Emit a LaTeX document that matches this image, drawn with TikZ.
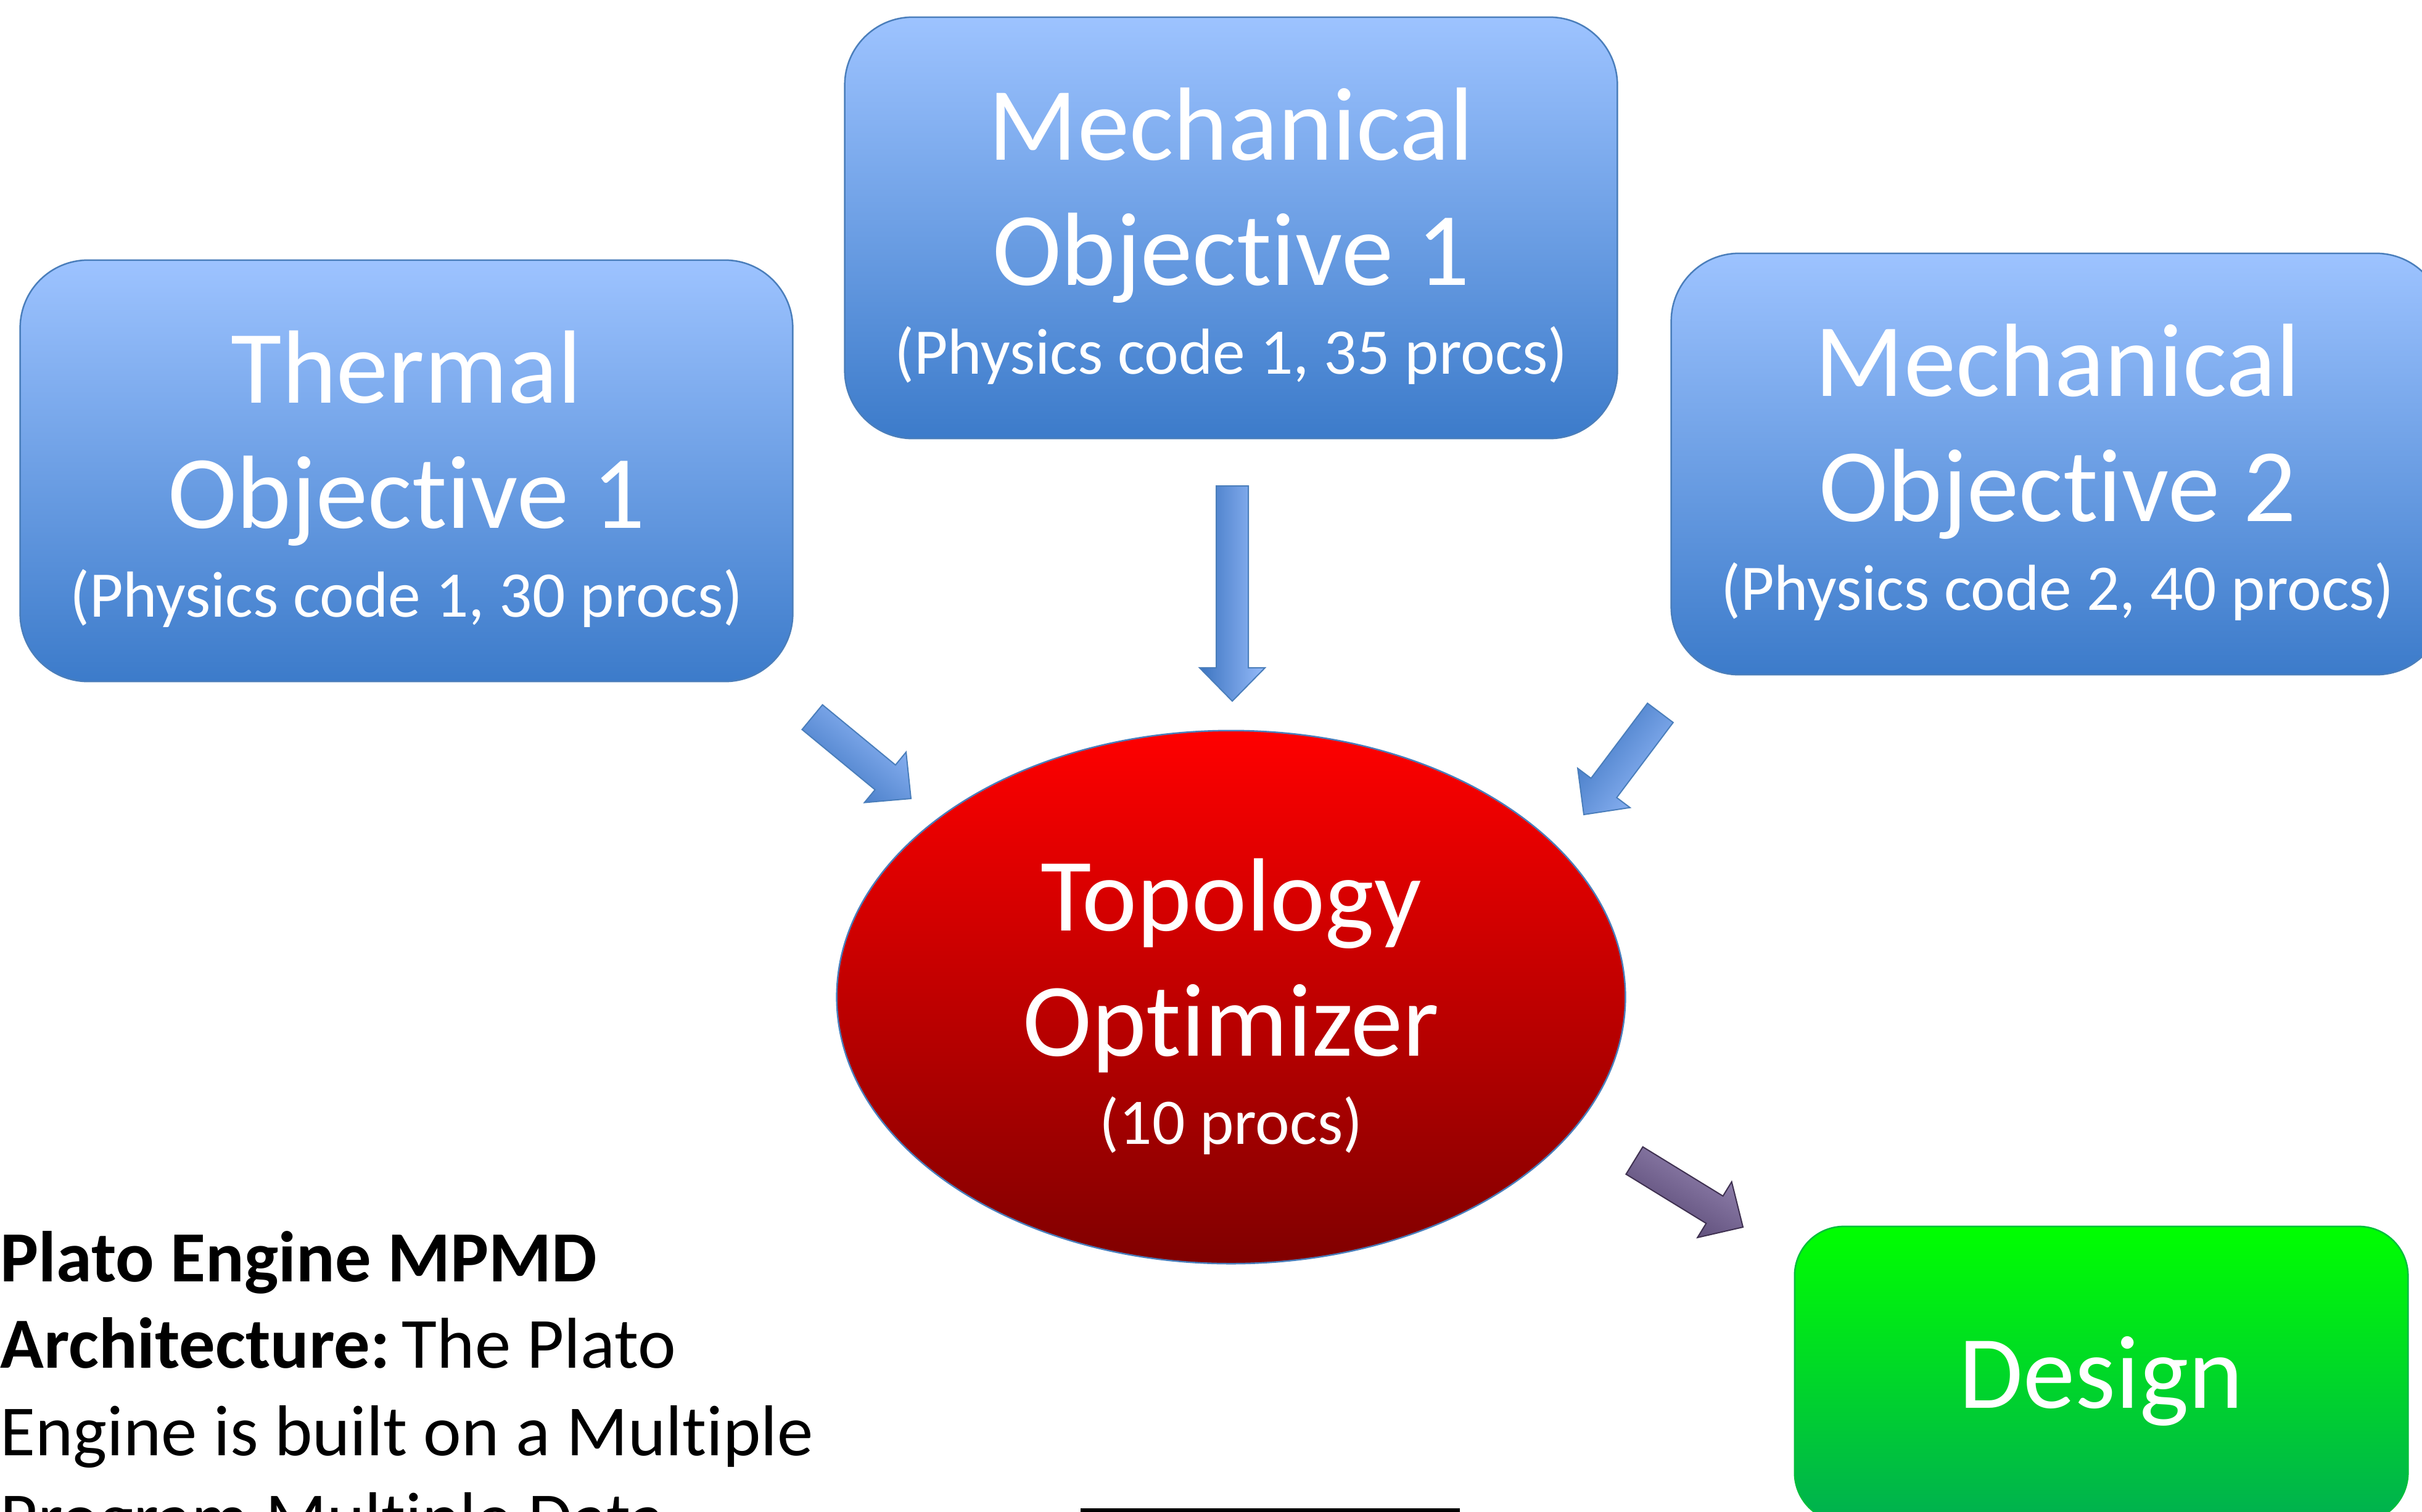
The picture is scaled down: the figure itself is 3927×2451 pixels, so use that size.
\documentclass[tikz,border=0pt]{standalone}
\usepackage{fontspec}
\setmainfont{Carlito}[Ligatures={NoCommon}]
\usetikzlibrary{shapes.geometric,calc}
\definecolor{bluetop}{RGB}{157,195,255}
\definecolor{bluebot}{RGB}{60,123,202}
\definecolor{blueline}{RGB}{74,126,187}
\definecolor{redtop}{RGB}{255,0,0}
\definecolor{redbot}{RGB}{128,0,0}
\definecolor{greentop}{RGB}{0,255,0}
\definecolor{greenbot}{RGB}{0,176,80}
\definecolor{greenline}{RGB}{0,190,60}
\definecolor{arrowlight}{RGB}{150,187,250}
\definecolor{arrowdark}{RGB}{60,116,192}
\definecolor{purplelight}{RGB}{152,136,180}
\definecolor{purpledark}{RGB}{84,68,112}
\definecolor{purpleline}{RGB}{63,49,81}
\tikzset{
  objbox/.style={draw=blueline, line width=0.25mm, rounded corners=11mm,
    top color=bluetop, bottom color=bluebot,
    minimum width=125.2mm, minimum height=68.3mm, inner sep=0},
  optell/.style={ellipse, draw=blueline, line width=0.25mm,
    top color=redtop, bottom color=redbot,
    minimum width=127.8mm, minimum height=86.4mm, inner sep=0},
  designbox/.style={draw=greenline, line width=0.25mm, rounded corners=8mm,
    top color=greentop, bottom color=greenbot,
    minimum width=99.4mm, minimum height=47.9mm, inner sep=0},
  bigtxt/.style={text=white, font=\fontsize{48}{58}\selectfont, inner sep=0, anchor=base},
  smalltxt/.style={text=white, font=\fontsize{30}{36}\selectfont, inner sep=0, anchor=base},
  bodytxt/.style={text=black, font=\fontsize{33.2}{40}\selectfont, inner sep=0, anchor=base west},
  bluearrow/.style={draw=blueline, line width=0.2mm, top color=arrowlight,
    bottom color=arrowdark, shading angle=#1},
  purplearrow/.style={draw=purpleline, line width=0.2mm, top color=purplelight,
    bottom color=purpledark, shading angle=#1},
}
\newcommand{\fatarrow}[4]{%
  \coordinate (#4n) at ($(#3)!5.4mm!(#2)$);
  \path[#1] ($(#2)!2.6mm!90:(#3)$) -- ($(#4n)!2.6mm!90:(#3)$) -- ($(#4n)!5.3mm!90:(#3)$)
    -- (#3) -- ($(#4n)!5.3mm!-90:(#3)$) -- ($(#4n)!2.6mm!-90:(#3)$)
    -- ($(#2)!2.6mm!-90:(#3)$) -- cycle;
}
\begin{document}
\begin{tikzpicture}[x=0.01cm, y=-0.01cm]
\useasboundingbox (0,0) rectangle (3927,2451);
\clip (0,0) rectangle (3927,2451);
\fill[white] (0,0) rectangle (3927,2451);

% boxes
\node[objbox] (thermal) at (659,763.5) {};
\node[objbox] (mech1) at (1996,369.5) {};
\node[objbox] (mech2) at (3336,752.5) {};
\node[optell] (opt) at (1996,1617) {};
\node[designbox] (design) at (3407,2228.5) {};

% box texts
\node[bigtxt] (thermalA) at (659,653) {Thermal};
\node[bigtxt] (thermalB) at (659,856) {Objective 1};
\node[smalltxt] (thermalC) at (659,1000) {(Physics code 1, 30 procs)};

\node[bigtxt] (mechA) at (1996,259) {Mechanical};
\node[bigtxt] (mechB) at (1996,462) {Objective 1};
\node[smalltxt] (mechC) at (1996,606) {(Physics code 1, 35 procs)};

\node[bigtxt] (mechtwoA) at (3336,642) {Mechanical};
\node[bigtxt] (mechtwoB) at (3336,845) {Objective 2};
\node[smalltxt] (mechtwoC) at (3336,989) {(Physics code 2, 40 procs)};

\node[bigtxt] (optA) at (1996,1509) {Topology};
\node[bigtxt] (optB) at (1996,1712) {Optimizer};
\node[smalltxt] (optC) at (1996,1855) {(10 procs)};

\node[bigtxt] (designA) at (3407,2283) {Design};

% block arrows
\coordinate (aths) at (1317,1163);
\coordinate (athe) at (1477,1295);
\coordinate (ames) at (1998,788);
\coordinate (amee) at (1998,1137);
\coordinate (amts) at (2692,1156);
\coordinate (amte) at (2568,1321);
\coordinate (ades) at (2650,1882);
\coordinate (adee) at (2826,1990);
\fatarrow{bluearrow=-39.5}{aths}{athe}{arA}
\fatarrow{bluearrow=-90}{ames}{amee}{arB}
\fatarrow{bluearrow=233}{amts}{amte}{arC}
\fatarrow{purplearrow=-31.4}{ades}{adee}{arD}

% bottom bar
\fill[black] (1752,2446) rectangle (2367,2460);

% description text
\node[bodytxt] (pA) at (0,2078) {\textbf{Plato Engine MPMD}};
\node[bodytxt] (pB) at (0,2218) {\textbf{Architecture:}\,The Plato};
\node[bodytxt] (pC) at (0,2360) {Engine is built on a Multiple};
\node[bodytxt] (pD) at (0,2501) {Program Multiple Data};
\end{tikzpicture}
\end{document}
